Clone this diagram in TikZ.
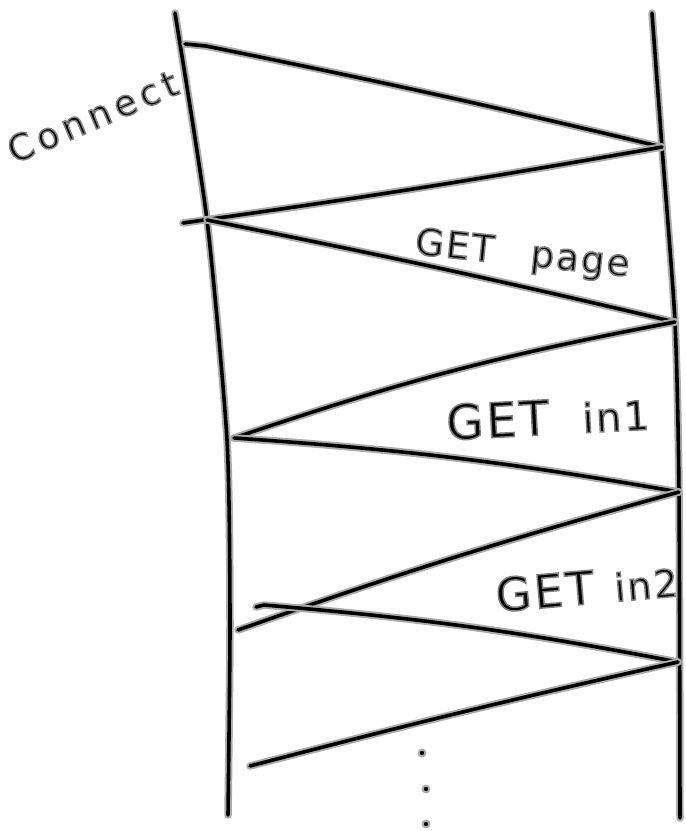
\documentclass[tikz,border=0pt]{standalone}
\usepackage{fontspec}
\setmainfont{DejaVu Sans}
\newfontfamily\handfont{DejaVu Sans}[LetterSpace=6]
\newfontfamily\widehandfont{DejaVu Sans}[LetterSpace=15]
\newcommand{\halo}{\special{pdf:literal direct 2 Tr 1.5 w 0.5 G}}
\newcommand{\nohalo}{\special{pdf:literal direct 0 Tr 0 G}}
\usetikzlibrary{calc}

\begin{document}
\begin{tikzpicture}[
x=1pt, y=-1pt,
stroke/.style={line width=3.6pt, line cap=round, line join=round, preaction={draw=gray!65, line width=7.5pt, line cap=round, line join=round}},
msg/.style={stroke},
lbl/.style={inner sep=0pt, anchor=base west},
dotmark/.style={fill=black, draw=gray!65, line width=2pt}
]
\useasboundingbox (0,0) rectangle (686,831);

% --- Lifelines ---
\coordinate (cli0) at (175,13);
\coordinate (cli1) at (207,220);
\coordinate (cli2) at (227,440);
\coordinate (cli3) at (230,620);
\coordinate (cli4) at (228,815);
\coordinate (srv0) at (652,13);
\coordinate (srv1) at (662,147);
\coordinate (srv2) at (675,322);
\coordinate (srv3) at (679,492);
\coordinate (srv4) at (680,818);

\draw[stroke] plot[smooth, tension=0.4] coordinates {(cli0) (cli1) (cli2) (cli3) (cli4)};
\draw[stroke] plot[smooth, tension=0.4] coordinates {(srv0) (srv1) (srv2) (srv3) (srv4)};

% --- Message end points ---
\coordinate (connstart) at (185,44);
\coordinate (connkink) at (206,46);
\coordinate (ackend) at (183,223);
\coordinate (pagestart) at (207,220);
\coordinate (pageback) at (234,438);
\coordinate (inAback) at (238,630);
\coordinate (inBstart) at (256,607);
\coordinate (inBhook) at (264,605);
\coordinate (inBend) at (678,662);
\coordinate (inBback) at (250,766);

% --- Messages ---
\draw[msg] (connstart) -- (connkink) to[bend left=1] (srv1);
\draw[msg] (srv1) to[bend left=1] (ackend);
\draw[msg] (pagestart) to[bend left=1] (srv2);
\draw[msg] (srv2) to[bend right=4] (pageback);
\draw[msg] (pageback) to[bend left=3] (srv3);
\draw[msg] (srv3) to[bend right=2] (inAback);
\draw[msg] (inBstart) -- (inBhook) to[bend left=3] (inBend);
\draw[msg] (inBend) to[bend right=1] (inBback);

% --- Labels ---
\node[lbl, rotate=23] (connect) at (14,164) {\widehandfont\fontsize{36}{36}\selectfont\halo Connect\nohalo};
\node[lbl, rotate=-6] (getpage) at (414,254) {\handfont\fontsize{37}{37}\selectfont\halo GET\hspace{1.0em}page\nohalo};
\node[lbl, rotate=3] (getinA) at (447,440) {\handfont\fontsize{48}{48}\selectfont\halo GET\hspace{0.7em}{\fontsize{40}{40}\selectfont in1}\nohalo};
\node[lbl, rotate=5] (getinB) at (497,612) {\handfont\fontsize{46}{46}\selectfont\halo GET\hspace{0.45em}{\fontsize{38}{38}\selectfont in2}\nohalo};

% --- Continuation dots ---
\foreach \p in {(422,753),(426,789),(426,824)}
  \filldraw[dotmark] \p circle (3.4pt);

\end{tikzpicture}
\end{document}
